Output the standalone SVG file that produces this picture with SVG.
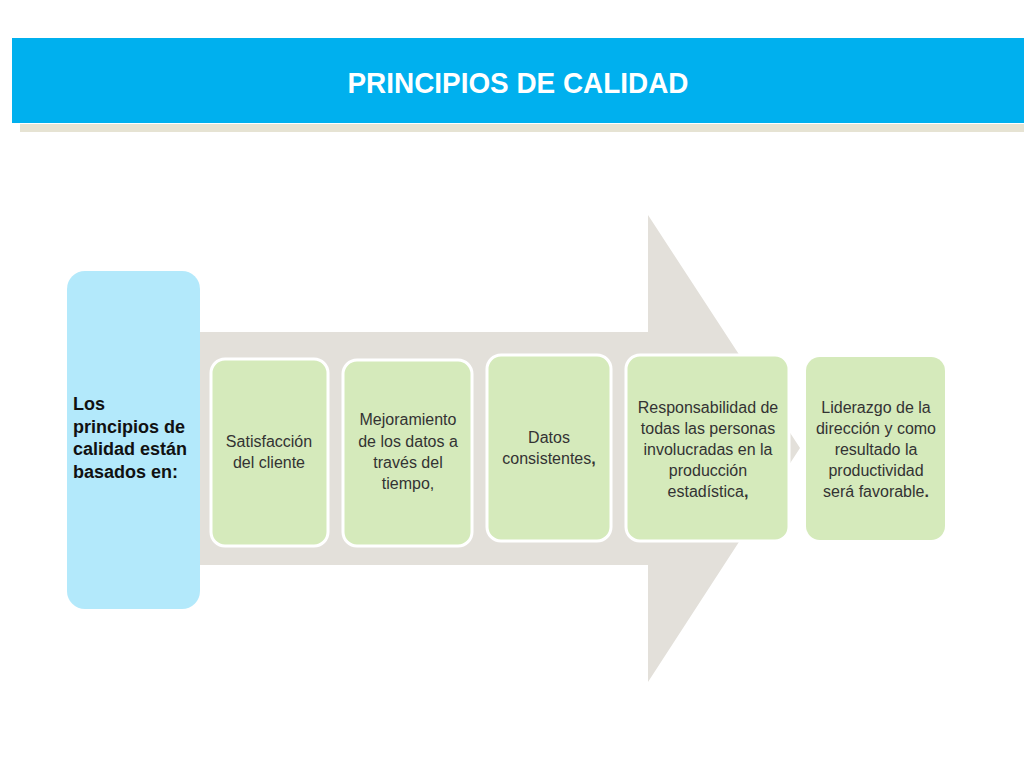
<svg xmlns="http://www.w3.org/2000/svg" width="1024" height="768" viewBox="0 0 1024 768">
<style>
.t{font-family:"Liberation Sans",Arial,sans-serif;font-size:16px;fill:#333;text-anchor:middle}
.g{fill:#d5eabb;stroke:#fff;stroke-width:3}
.l{font-family:"Liberation Sans",Arial,sans-serif;font-size:18px;font-weight:bold;fill:#111}
</style>
<rect width="1024" height="768" fill="#fff"/>
<rect x="20" y="124" width="1004" height="8" fill="#e6e3d3"/>
<rect x="12" y="38" width="1012" height="85" fill="#00b0ee"/>
<text x="518" y="93" textLength="341" lengthAdjust="spacingAndGlyphs" style="font-family:'Liberation Sans',Arial,sans-serif;font-size:30px;font-weight:bold;fill:#fff;text-anchor:middle">PRINCIPIOS DE CALIDAD</text>
<g id="arrow"><polygon points="200,332 648,332 648,215 800,448 648,682 648,565 200,565" fill="#e3e0da"/></g>
<g id="left"><rect x="67" y="271" width="133" height="338" rx="18" fill="#b3e9fb"/>
<text class="l"><tspan x="73" y="410">Los</tspan><tspan x="73" y="433">principios de</tspan><tspan x="73" y="455">calidad están</tspan><tspan x="73" y="478">basados en:</tspan></text></g>
<g id="n1"><rect class="g" x="211" y="359" width="117" height="187" rx="14"/>
<text class="t"><tspan x="269" y="447">Satisfacción</tspan><tspan x="269" y="468">del cliente</tspan></text></g>
<g id="n2"><rect class="g" x="343" y="360" width="129" height="186" rx="14"/>
<text class="t"><tspan x="408" y="425">Mejoramiento</tspan><tspan x="408" y="447">de los datos a</tspan><tspan x="408" y="468">través del</tspan><tspan x="408" y="489">tiempo,</tspan></text></g>
<g id="n3"><rect class="g" x="487" y="355" width="124" height="186" rx="14"/>
<text class="t"><tspan x="549" y="443">Datos</tspan><tspan x="549" y="464">consistentes<tspan font-weight="bold">,</tspan></tspan></text></g>
<g id="n4"><rect class="g" x="626" y="355" width="163" height="186" rx="14"/>
<text class="t"><tspan x="708" y="413">Responsabilidad de</tspan><tspan x="708" y="434">todas las personas</tspan><tspan x="708" y="455">involucradas en la</tspan><tspan x="708" y="476">producción</tspan><tspan x="708" y="497">estadística<tspan font-weight="bold">,</tspan></tspan></text></g>
<g id="n5"><rect x="806" y="357" width="139" height="183" rx="14" fill="#d5eabb"/>
<text class="t"><tspan x="876" y="413">Liderazgo de la</tspan><tspan x="876" y="434">dirección y como</tspan><tspan x="876" y="455">resultado la</tspan><tspan x="876" y="476">productividad</tspan><tspan x="876" y="497">será favorable<tspan font-weight="bold">.</tspan></tspan></text></g>
<g id="connectors"/>
</svg>
